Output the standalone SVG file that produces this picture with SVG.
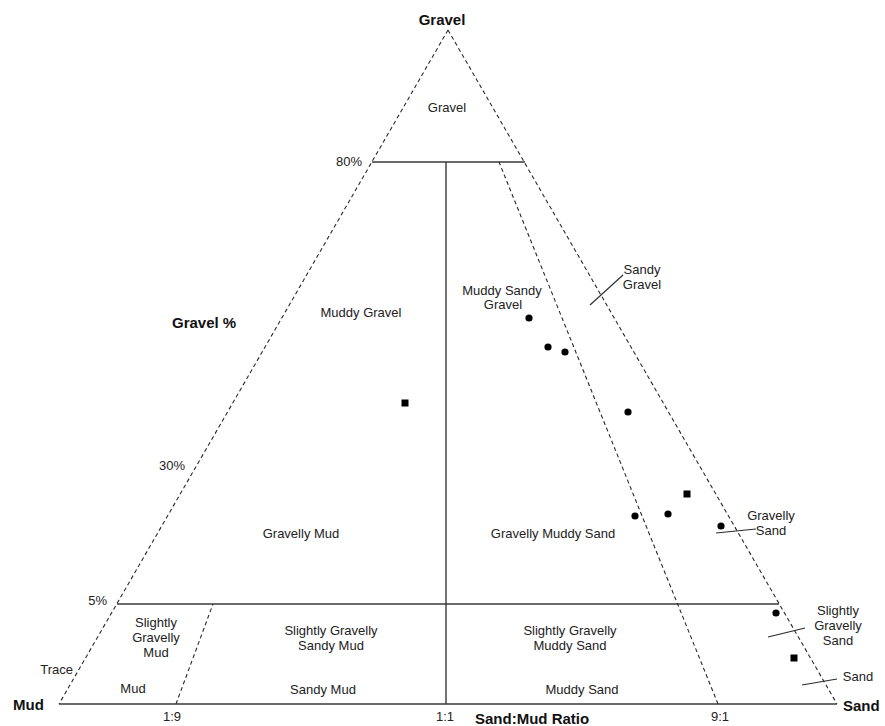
<svg xmlns="http://www.w3.org/2000/svg" width="885" height="726" viewBox="0 0 885 726">
<style>
.bg{fill:#fff}
.solid{stroke:#3a3a3a;stroke-width:1.4;fill:none}
.dash{stroke:#2a2a2a;stroke-width:1.1;fill:none;stroke-dasharray:4 3}
.tick{stroke:#2a2a2a;stroke-width:1.1;fill:none}
.lbl{font-family:"Liberation Sans",Arial,sans-serif;font-size:13px;fill:#222;text-anchor:middle}
.pct{font-family:"Liberation Sans",Arial,sans-serif;font-size:13px;fill:#222;text-anchor:end}
.bold{font-family:"Liberation Sans",Arial,sans-serif;font-size:15px;font-weight:bold;fill:#111}
.pt{fill:#000}
</style>
<rect class="bg" x="0" y="0" width="885" height="726"/>
<g id="connectors">
  <line class="dash" x1="448" y1="30" x2="59" y2="704"/>
  <line class="dash" x1="448" y1="30" x2="837" y2="704"/>
  <line class="solid" x1="59" y1="704" x2="837" y2="704"/>
  <line class="solid" x1="372" y1="162" x2="525" y2="162"/>
  <line class="solid" x1="446" y1="162" x2="446" y2="704"/>
  <line class="solid" x1="117" y1="604" x2="779" y2="604"/>
  <line class="dash" x1="176" y1="704" x2="213" y2="604"/>
  <line class="dash" x1="718" y1="704" x2="499" y2="162"/>
  <line class="tick" x1="590" y1="305" x2="623" y2="275"/>
  <line class="tick" x1="716" y1="533" x2="756" y2="529"/>
  <line class="tick" x1="768" y1="637" x2="805" y2="628"/>
  <line class="tick" x1="802" y1="685" x2="837" y2="679"/>
</g>
<g id="axis-labels">
  <text class="bold" x="442" y="25" text-anchor="middle">Gravel</text>
  <text class="bold" x="13" y="710">Mud</text>
  <text class="bold" x="843" y="711">Sand</text>
  <text class="bold" x="172" y="328">Gravel %</text>
  <text class="bold" x="475" y="724">Sand:Mud Ratio</text>
  <text class="pct" x="362" y="166">80%</text>
  <text class="pct" x="185" y="470">30%</text>
  <text class="pct" x="107" y="605">5%</text>
  <text class="pct" x="73" y="674">Trace</text>
  <text class="lbl" x="172" y="721">1:9</text>
  <text class="lbl" x="445" y="721">1:1</text>
  <text class="lbl" x="720" y="721">9:1</text>
</g>
<g id="gravel"><text class="lbl" x="447" y="112">Gravel</text></g>
<g id="muddy-gravel"><text class="lbl" x="361" y="317">Muddy Gravel</text></g>
<g id="muddy-sandy-gravel"><text class="lbl" x="502" y="295">Muddy Sandy</text><text class="lbl" x="503" y="309">Gravel</text></g>
<g id="sandy-gravel"><text class="lbl" x="642" y="274">Sandy</text><text class="lbl" x="642" y="289">Gravel</text></g>
<g id="gravelly-mud"><text class="lbl" x="301" y="538">Gravelly Mud</text></g>
<g id="gravelly-muddy-sand"><text class="lbl" x="553" y="538">Gravelly Muddy Sand</text></g>
<g id="gravelly-sand"><text class="lbl" x="771" y="520">Gravelly</text><text class="lbl" x="771" y="535">Sand</text></g>
<g id="slightly-gravelly-mud"><text class="lbl" x="156" y="627">Slightly</text><text class="lbl" x="156" y="642">Gravelly</text><text class="lbl" x="156" y="657">Mud</text></g>
<g id="slightly-gravelly-sandy-mud"><text class="lbl" x="331" y="635">Slightly Gravelly</text><text class="lbl" x="331" y="650">Sandy Mud</text></g>
<g id="slightly-gravelly-muddy-sand"><text class="lbl" x="570" y="635">Slightly Gravelly</text><text class="lbl" x="570" y="650">Muddy Sand</text></g>
<g id="slightly-gravelly-sand"><text class="lbl" x="838" y="615">Slightly</text><text class="lbl" x="838" y="630">Gravelly</text><text class="lbl" x="838" y="645">Sand</text></g>
<g id="mud"><text class="lbl" x="133" y="693">Mud</text></g>
<g id="sandy-mud"><text class="lbl" x="323" y="694">Sandy Mud</text></g>
<g id="muddy-sand"><text class="lbl" x="582" y="694">Muddy Sand</text></g>
<g id="sand"><text class="lbl" x="858" y="681">Sand</text></g>
<g id="samples">
  <circle class="pt" cx="529" cy="318" r="3.6"/>
  <circle class="pt" cx="548" cy="347" r="3.6"/>
  <circle class="pt" cx="565" cy="352" r="3.6"/>
  <circle class="pt" cx="628" cy="412" r="3.6"/>
  <circle class="pt" cx="635" cy="516" r="3.6"/>
  <circle class="pt" cx="668" cy="514" r="3.6"/>
  <circle class="pt" cx="721" cy="526" r="3.6"/>
  <circle class="pt" cx="776" cy="613" r="3.6"/>
  <rect class="pt" x="401.5" y="399.5" width="7" height="7"/>
  <rect class="pt" x="683.5" y="490.5" width="7" height="7"/>
  <rect class="pt" x="790.5" y="654.5" width="7" height="7"/>
</g>
</svg>
